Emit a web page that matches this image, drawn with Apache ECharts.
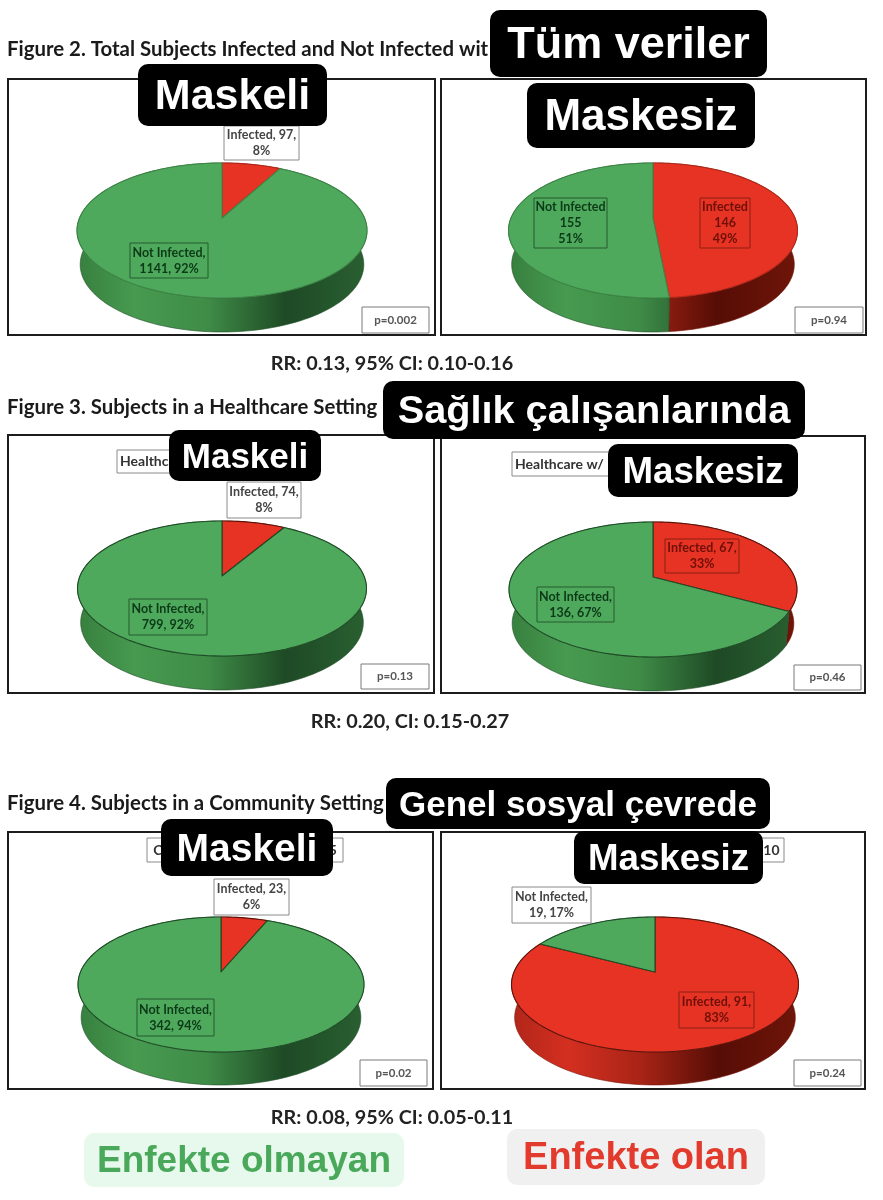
<!DOCTYPE html>
<html><head><meta charset="utf-8">
<style>html,body{margin:0;padding:0;background:#fff}#c{width:883px;height:1200px}</style>
<script src="https://cdn.jsdelivr.net/npm/echarts@6/dist/echarts.min.js"></script>
</head><body><div id="c"></div>
<script>
// ---------- data ----------
const infected    = [97, 146, 74, 67, 23, 91];
const notInfected = [1141, 155, 799, 136, 342, 19];
const infectedLabels = ['Infected, 97,\n8%','Infected\n146\n49%','Infected, 74,\n8%','Infected, 67,\n33%','Infected, 23,\n6%','Infected, 91,\n83%'];
const notInfectedLabels = ['Not Infected,\n1141, 92%','Not Infected\n155\n51%','Not Infected,\n799, 92%','Not Infected,\n136, 67%','Not Infected,\n342, 94%','Not Infected,\n19, 17%'];
const pValues = ['p=0.002','p=0.94','p=0.13','p=0.46','p=0.02','p=0.24'];
const figureTitles = ['Figure 2. Total Subjects Infected and Not Infected wit','Figure 3. Subjects in a Healthcare Setting','Figure 4. Subjects in a Community Setting'];
const riskRatios = ['RR: 0.13, 95% CI: 0.10-0.16','RR: 0.20, CI: 0.15-0.27','RR: 0.08, 95% CI: 0.05-0.11'];
const chartTitles = [null,null,'Healthcare','Healthcare w/','Community w/ Masks, n=365','Community w/o Masks, n=110'];
const sectionTags = ['Tüm veriler','Sağlık çalışanlarında','Genel sosyal çevrede'];
const maskTags = ['Maskeli','Maskesiz','Maskeli','Maskesiz','Maskeli','Maskesiz'];
const legendNames = ['Enfekte olmayan','Enfekte olan'];

// ---------- layout ----------
const frames = [[8,79,435,335],[441,79,866,335],[8,435,434,693],[441,436,865,693],[8,832,433,1089],[441,832,865,1089]];
const apex   = [[222,218,145],[653,218,144.5],[222,576,144.5],[653,577,144],[221,972,143],[655,972,143.5]]; // x, y, half width
const depthPx = [34,34,34,34,33,33];
const rimGreen = ['#3d8546','#3d8546','#1f4d27','#1f4d27','#1f4d27','#1f4d27'];
const rimRed   = ['#b0281a','#b0281a','#5c140c','#5c140c','#5c140c','#5c140c'];
const K = 0.185, RY = 65.2, NARROW = 0.978;
const infBoxes = [[224,126,299,160],[700,198,750,248],[227,482,301,518],[665,539,739,573],[214,879,289,915],[679,992,754,1028]];
const notBoxes = [[130,243,208,278],[534,198,607,248],[129,599,207,635],[537,587,614,622],[137,999,214,1036],[512,887,591,923]];
const pBoxes   = [[362,307,429,333],[795,307,863,333],[361,664,429,689],[794,665,861,690],[360,1060,427,1086],[794,1060,861,1086]];
const titleBoxes = [null,null,[117,450,240,473],[512,452,640,476],[147,838,343,862],[590,838,784,862]];
const figureY = [49,407,803], rrPos = [[392,364],[410,722],[392,1118]];
const sectionBoxes = [[490,10,767,77,45],[383,381,805,439,39.7],[386,778,770,829,35]];
const maskBoxes = [[138,64,327,126,43],[527,83,755,148,44],[169,430,321,481,35],[608,444,798,497,36.7],[161,819,333,876,39],[574,831,763,884,36.7]];
const legendBoxes = [[84,1133,404,1187,37,'#e6f9ec','#4aa85a'],[507,1129,765,1185,38,'#f0f0f0','#e23a2c']];

const COL = {
  inf:{top:'#e63323',stops:[[0,'#b0261a'],[.2,'#d42f20'],[.45,'#a82416'],[.72,'#560d05'],[1,'#701509']],edge:'#7a140a',txt:'#6e1008'},
  not:{top:'#4fa95c',stops:[[0,'#377f3e'],[.2,'#479a50'],[.45,'#3f8c47'],[.72,'#1e4a25'],[1,'#2a6031']],edge:'#1f4d27',txt:'#0c3a18'}
};
const FONT = 'Lato, "Open Sans", sans-serif', TAG = '"Liberation Sans", Arial, sans-serif';

// perspective projection of a point on the unit pie, share measured clockwise from 12 o'clock
function project(share){
  const t = share*2*Math.PI, X = Math.sin(t), Y = Math.cos(t), w = 1+K*Y;
  return [X/w, Y/w];
}
function arc(s0,s1){
  const n = Math.max(2, Math.ceil((s1-s0)*180)), out=[];
  for(let i=0;i<=n;i++) out.push(project(s0+(s1-s0)*i/n));
  return out;
}
function renderer(i, part){
  return function(params, api){
    const s0=api.value(0), s1=api.value(1), isInf=api.value(2)===0, c = isInf?COL.inf:COL.not;
    const pts = arc(s0,s1);
    if(part==='top'){
      const poly = [[0,0]].concat(pts).map(p=>api.coord(p));
      return {type:'polygon',shape:{points:poly},style:{fill:c.top,stroke:isInf?rimRed[i]:rimGreen[i],lineWidth:1.1,lineJoin:'round'}};
    }
    const dy = depthPx[i]/RY;
    const low = pts.slice().reverse().map(p=>[p[0]*NARROW,p[1]-dy]);
    const poly = pts.concat(low).map(p=>api.coord(p));
    const a=api.coord([-1.02,0]), b=api.coord([1.02,0]);
    return {type:'polygon',shape:{points:poly},style:{
      fill:{type:'linear',x:a[0],y:0,x2:b[0],y2:0,global:true,colorStops:c.stops.map(s=>({offset:s[0],color:s[1]}))},
      stroke:c.edge,lineWidth:.6}};
  };
}

const grids=[],xAxes=[],yAxes=[],series=[];
infected.forEach((inf,i)=>{
  const f=frames[i], ax=apex[i], rx=ax[2]/1.0176, total=inf+notInfected[i], share=inf/total;
  grids.push({show:true,left:f[0],top:f[1],width:f[2]-f[0],height:f[3]-f[1],borderColor:'#1c1c1c',borderWidth:2,backgroundColor:'#fff',containLabel:false});
  const hide={show:false,axisLine:{show:false},splitLine:{show:false},axisTick:{show:false},axisLabel:{show:false}};
  xAxes.push(Object.assign({type:'value',gridIndex:i,min:(f[0]-ax[0])/rx,max:(f[2]-ax[0])/rx},hide));
  yAxes.push(Object.assign({type:'value',gridIndex:i,min:(ax[1]-f[3])/RY,max:(ax[1]-f[1])/RY},hide));
  const slices=[[0,share,0],[share,1,1]];
  ['wall','top'].forEach((part,p)=>series.push({
    type:'custom',coordinateSystem:'cartesian2d',xAxisIndex:i,yAxisIndex:i,z:2+p,clip:false,silent:true,animation:false,
    renderItem:renderer(i,part),encode:{x:[],y:[]},data:slices
  }));
});

// ---------- annotations ----------
const g=[];
function box(b,fill,stroke,z,lw,r){g.push({type:'rect',z:z,silent:true,shape:{x:b[0],y:b[1],width:b[2]-b[0],height:b[3]-b[1],r:r||0},style:{fill:fill,stroke:stroke,lineWidth:lw||0}});}
function text(x,y,t,font,size,weight,color,z,align,lh){g.push({type:'text',z:z,silent:true,x:x,y:y,style:{text:t,fontFamily:font,fontSize:size,fontWeight:weight,fill:color,align:align||'center',verticalAlign:'middle',lineHeight:lh||undefined}});}
const mid=b=>[(b[0]+b[2])/2,(b[1]+b[3])/2];

figureTitles.forEach((t,i)=>text(7,figureY[i],t,FONT,20.4,'bold','#1a1a1a',10,'left'));
riskRatios.forEach((t,i)=>text(rrPos[i][0],rrPos[i][1],t,FONT,19.8,'bold','#222',10));

infected.forEach((_,i)=>{
  const outInf=[0,2,4].includes(i), outNot=i===5;
  const a=infBoxes[i], b=notBoxes[i], p=pBoxes[i];
  box(a,outInf?'#fff':'transparent',outInf?'#8a8a8a':'#8a2015',20,1);
  text(mid(a)[0],mid(a)[1],infectedLabels[i],FONT,12.5,'bold',outInf?'#444':COL.inf.txt,21,'center',16);
  box(b,outNot?'#fff':'transparent',outNot?'#8a8a8a':'#245a2c',20,1);
  text(mid(b)[0],mid(b)[1],notInfectedLabels[i],FONT,12.5,'bold',outNot?'#444':COL.not.txt,21,'center',16);
  box(p,'#fff','#7a7a7a',20,1);
  text(mid(p)[0],mid(p)[1],pValues[i],FONT,11.5,'bold','#555',21);
  if(chartTitles[i]){
    const t=titleBoxes[i]; box(t,'#fff','#8a8a8a',20,1);
    if(i<4) text(t[0]+3,mid(t)[1],chartTitles[i],FONT,14,'bold','#333',21,'left');
    else text(mid(t)[0]+(i===5?-3:0),mid(t)[1],chartTitles[i],FONT,14,'bold','#333',21);
  }
});
function tag(b,t){box(b,'#000',null,30,0,10);const m=mid(b);text(m[0],m[1]+2.5,t,TAG,b[4],'bold','#fff',31);}
sectionTags.forEach((t,i)=>tag(sectionBoxes[i],t));
maskTags.forEach((t,i)=>tag(maskBoxes[i],t));
legendNames.forEach((t,i)=>{const b=legendBoxes[i];box(b,b[5],null,30,0,10);const m=mid(b);text(m[0],m[1]+2,t,TAG,b[4],'bold',b[6],31);});

const chart=echarts.init(document.getElementById('c'),null,{renderer:'canvas'});
chart.setOption({animation:false,backgroundColor:'#fff',tooltip:{show:false},legend:{show:false},grid:grids,xAxis:xAxes,yAxis:yAxes,series:series,graphic:{elements:g}});
</script></body></html>
